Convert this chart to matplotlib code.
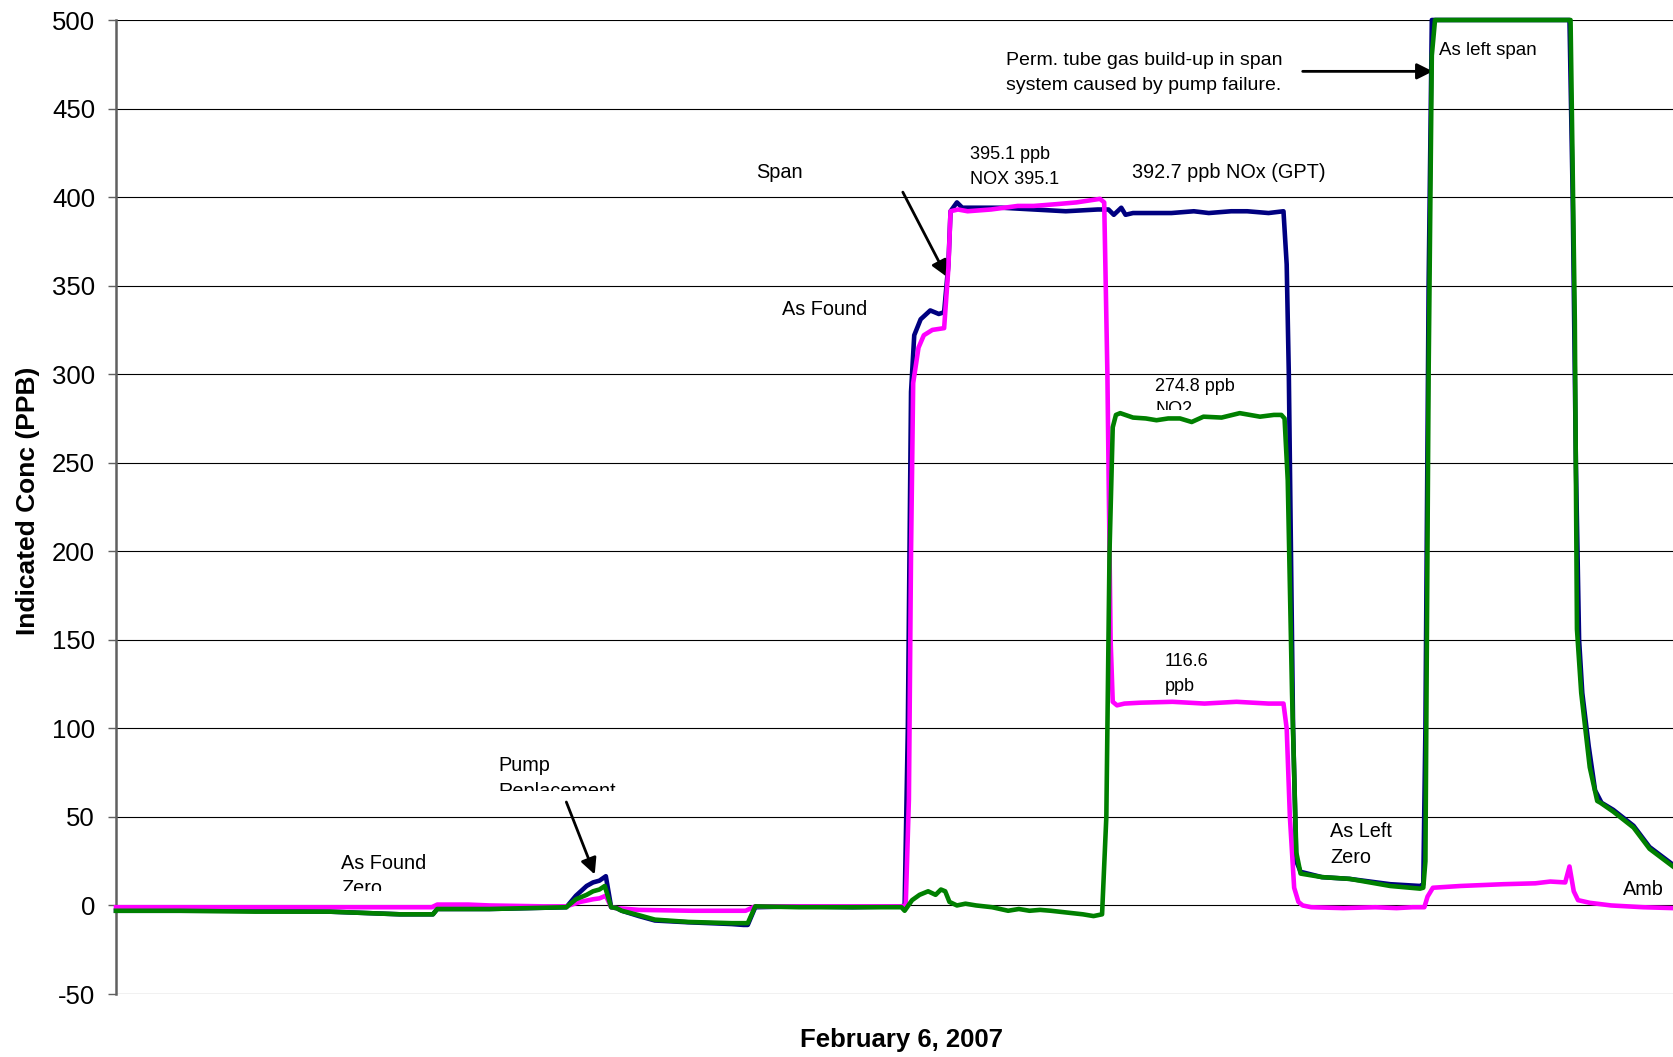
import matplotlib
matplotlib.use("Agg")
import matplotlib.pyplot as plt
from matplotlib.transforms import Bbox, TransformedBbox

plt.rcParams['font.family'] = ['Liberation Sans', 'DejaVu Sans']
plt.rcParams['axes.unicode_minus'] = False

# time axis: sample index across the day
t_nox = [0, 60, 130, 200, 266, 297, 301, 350, 422, 431, 441, 447, 453, 459, 464, 469,
         474, 490, 505, 536, 577, 588, 592, 599, 640, 690, 736, 739, 742, 745, 748, 754,
         763, 771, 776, 780, 782, 788, 793, 798, 830, 860, 890, 920, 930, 935, 942, 946,
         953, 970, 989, 1010, 1024, 1045, 1060, 1080, 1094, 1097, 1099, 1103, 1106, 1110,
         1130, 1156, 1194, 1222, 1225, 1227, 1230, 1233, 1300, 1362, 1365, 1368, 1371,
         1374, 1380, 1386, 1392, 1403, 1422, 1437, 1459]
nox = [-3, -3, -3, -3.5, -5, -5, -2, -2, -1, 5.5, 11, 13, 14, 16.5, -1, -1.5,
       -3, -6, -8.5, -9.5, -10.5, -11, -11, -1, -0.5, -1, -0.5, 0, 100, 290, 322, 331,
       336, 334, 335, 362, 392, 397, 394, 394, 394, 393, 392, 393, 393, 390, 394, 390,
       391, 391, 391, 392, 391, 392, 392, 391, 392, 362, 300, 100, 25, 19,
       16, 15, 12, 11, 12, 100, 350, 500, 500, 500, 400, 250, 150,
       120, 90, 65, 58, 54, 45, 33, 23]

t_no2 = [0, 60, 130, 200, 266, 297, 301, 350, 422, 431, 441, 447, 453, 458, 464, 469,
         474, 490, 505, 536, 577, 588, 592, 599, 640, 690, 736, 739, 746, 753, 761, 768,
         773, 777, 781, 788, 796, 806, 821, 836, 846, 856, 866, 876, 891, 906, 916, 924,
         928, 931, 934, 937, 941, 953, 965, 975, 986, 997, 1008, 1019, 1036, 1053, 1072,
         1085, 1092, 1095, 1098, 1102, 1106, 1110, 1130, 1156, 1194, 1222, 1225, 1227,
         1230, 1233, 1236, 1300, 1361, 1363, 1367, 1369, 1373, 1381, 1388, 1391, 1403,
         1422, 1437, 1459]
no2 = [-3, -3, -3.5, -3.5, -5, -5, -2, -2, -1, 3.5, 6, 8, 9, 11, -1, -1.5,
       -3, -5.5, -8, -9.3, -10, -10, -10, -0.5, -1, -1, -1, -3, 3, 6, 8, 6,
       9, 8, 2, 0, 1, 0, -1, -3, -2, -3, -2.5, -3, -4, -5, -6, -5,
       50, 200, 270, 277, 278, 275.5, 275, 274, 275, 275, 273, 276, 275.5, 278, 276,
       277, 277, 275, 240, 120, 30, 18, 16, 15, 11, 9.5, 10, 25,
       300, 480, 500, 500, 500, 500, 330, 156, 120, 78, 59, 58, 53,
       44, 32, 22]

t_no = [0, 100, 200, 296, 301, 330, 350, 400, 422, 435, 447, 453, 459, 464, 469, 490,
        540, 580, 590, 599, 660, 736, 740, 743, 745, 747, 752, 757, 765, 776, 780, 782,
        789, 798, 820, 845, 860, 881, 900, 922, 926, 929, 932, 934, 938, 945, 960, 990,
        1020, 1050, 1080, 1094, 1097, 1100, 1104, 1108, 1112, 1120, 1150, 1180, 1200,
        1215, 1226, 1229, 1234, 1260, 1300, 1330, 1344, 1358, 1362, 1366, 1370, 1381,
        1401, 1431, 1459]
no = [-1, -1, -1, -1, 0.5, 0.5, 0, -0.5, -0.5, 2, 3.5, 4, 5.5, -1, -1.5, -2.5,
      -3, -3, -3, -0.5, -0.5, -0.5, 0, 60, 200, 295, 315, 322, 325, 326, 360, 392,
      393, 392, 393, 395, 395, 396, 397, 399, 397, 300, 150, 115, 113, 114, 114.5, 115,
      114, 115, 114, 114, 100, 50, 10, 2, 0, -1, -1.5, -1, -1.5,
      -1, -1, 5, 10, 11, 12, 12.5, 13.5, 13, 22, 8, 3, 1.5,
      0, -1, -1.5]

y_ticks = [-50, 0, 50, 100, 150, 200, 250, 300, 350, 400, 450, 500]

W, H = 1673, 1057
fig = plt.figure(figsize=(W / 100, H / 100), dpi=100)
ax = fig.add_axes([116 / W, 1 - 994 / H, (W - 116) / W, (994 - 20) / H])

ax.plot(t_nox, nox, color='#000080', lw=3.3, clip_on=False, zorder=3)
ax.plot(t_no, no, color='#ff00ff', lw=3.3, clip_on=False, zorder=4)
ax.plot(t_no2, no2, color='#008000', lw=3.3, clip_on=False, zorder=5)

ax.set_xlim(0, 1459)
ax.set_ylim(-50, 500)
ax.set_yticks(y_ticks)
ax.set_xticks([])
ax.grid(axis='y', color='black', lw=0.8)
ax.set_axisbelow(True)
for s in ['top', 'right', 'bottom']:
    ax.spines[s].set_visible(False)
ax.spines['left'].set_color('#606060')
ax.spines['left'].set_linewidth(1.8)
ax.tick_params(axis='y', labelsize=18.5, length=6, width=1, color='#606060', pad=9)

fig.text(28 / W, 1 - 501 / H, 'Indicated Conc (PPB)', rotation=90, fontsize=19,
         fontweight='bold', ha='center', va='center')
fig.text(901 / W, 1 - 1040 / H, 'February 6, 2007', fontsize=18.5,
         fontweight='bold', ha='center', va='center')


def clipped(x, y, s, ybottom, size=14.3):
    # text boxes in the original cut off their second line
    t = ax.text(x, y, s, fontsize=size, va='top', ha='left', clip_on=True,
                linespacing=1.45)
    t.set_clip_box(TransformedBbox(Bbox([[x - 20, ybottom], [x + 400, 520]]), ax.transData))
    return t


clipped(211, 29.2, 'As Found\nZero', 8.2)
clipped(358, 84.2, 'Pump\nReplacement', 64.5)
clipped(974, 297.8, '274.8 ppb\nNO2', 279.5, size=13)

ax.text(600, 414, 'Span', fontsize=14.3, va='center')
ax.text(624, 336.5, 'As Found', fontsize=14.3, va='center')
ax.text(800, 417, '395.1 ppb\nNOX 395.1', fontsize=13, va='center', linespacing=1.6)
ax.text(952, 414, '392.7 ppb NOx (GPT)', fontsize=14.3, va='center')
ax.text(983, 130.7, '116.6\nppb', fontsize=13, va='center', linespacing=1.55)
ax.text(1138, 34.5, 'As Left\nZero', fontsize=14.3, va='center', linespacing=1.5)
ax.text(1412, 9, 'Amb', fontsize=14.3, va='center')
ax.text(834, 470, 'Perm. tube gas build-up in span\nsystem caused by pump failure.',
        fontsize=14, va='center', linespacing=1.6)
ax.text(1240, 482.6, 'As left span', fontsize=13.5, va='center')

arrow = dict(arrowstyle='-|>', color='black', lw=2, mutation_scale=24, shrinkA=0, shrinkB=0)
ax.annotate('', xy=(448.6, 17.5), xytext=(422, 58.4), arrowprops=arrow)
ax.annotate('', xy=(778.5, 355), xytext=(737.3, 402.8), arrowprops=arrow)
ax.annotate('', xy=(1234, 471), xytext=(1112, 471), arrowprops=arrow)

fig.savefig('out.png', dpi=100)
